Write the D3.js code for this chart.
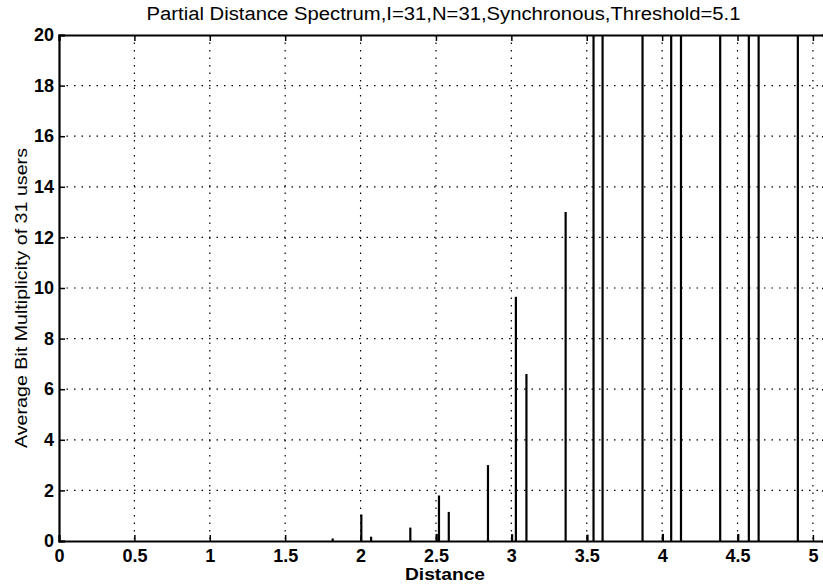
<!DOCTYPE html>
<html>
<head>
<meta charset="utf-8">
<script src="https://cdn.jsdelivr.net/npm/d3@7"></script>
<style>
  body { margin: 0; background: #fff; }
  svg { display: block; font-family: "Liberation Sans", Arial, sans-serif; }
</style>
</head>
<body>
<div id="chart"></div>
<script>
// valeurs
var distances = [1.815, 2.005, 2.07, 2.33, 2.505, 2.52, 2.585, 2.845, 3.005, 3.03, 3.10, 3.36,
                 3.505, 3.545, 3.605, 3.87, 4.005, 4.06, 4.125, 4.385, 4.505, 4.575, 4.64, 4.90];
var multiplicity = [0.1, 1.05, 0.17, 0.53, 0.28, 1.8, 1.15, 3.0, 0.27, 9.65, 6.6, 13.0,
                    0.25, 40, 40, 40, 0.28, 40, 40, 40, 0.28, 40, 40, 40];
var xTicks = [0, 0.5, 1, 1.5, 2, 2.5, 3, 3.5, 4, 4.5, 5];
var yTicks = [0, 2, 4, 6, 8, 10, 12, 14, 16, 18, 20];

var width = 823, height = 585;
var mLeft = 59, mRight = 828, mTop = 35, mBottom = 541;

var x = d3.scaleLinear().domain([0, 5.1]).range([mLeft, mRight]);
var y = d3.scaleLinear().domain([0, 20]).range([mBottom, mTop]);

var svg = d3.select("#chart").append("svg")
    .attr("width", width)
    .attr("height", height);

svg.append("clipPath").attr("id", "plot")
  .append("rect")
    .attr("x", mLeft).attr("y", mTop)
    .attr("width", mRight - mLeft).attr("height", mBottom - mTop);

// grille pointillée
var grid = svg.append("g")
    .attr("stroke", "#000")
    .attr("stroke-width", 1.2)
    .attr("stroke-dasharray", "1.5,6");

grid.selectAll(".vx")
    .data(xTicks.slice(1))
    .enter().append("line")
    .attr("x1", function(d) { return x(d); })
    .attr("x2", function(d) { return x(d); })
    .attr("y1", mTop).attr("y2", mBottom);

grid.selectAll(".hy")
    .data(yTicks.slice(1, -1))
    .enter().append("line")
    .attr("y1", function(d) { return y(d); })
    .attr("y2", function(d) { return y(d); })
    .attr("x1", mLeft).attr("x2", mRight);

// barres (stem)
svg.append("g")
    .attr("clip-path", "url(#plot)")
    .selectAll("line")
    .data(distances)
    .enter().append("line")
    .attr("x1", function(d) { return x(d); })
    .attr("x2", function(d) { return x(d); })
    .attr("y1", y(0))
    .attr("y2", function(d, i) { return y(multiplicity[i]); })
    .attr("stroke", "#000")
    .attr("stroke-width", 2.2);

// axes avec graduations vers l'intérieur
var xAxis = d3.axisBottom(x).tickValues(xTicks).tickSize(-6).tickPadding(8)
    .tickFormat(function(d) { return d; });
var yAxis = d3.axisLeft(y).tickValues(yTicks).tickSize(-6).tickPadding(5);

svg.append("g")
    .attr("transform", "translate(0," + mBottom + ")")
    .call(xAxis);
svg.append("g")
    .attr("transform", "translate(" + mLeft + ",0)")
    .call(yAxis);

svg.append("g").attr("transform", "translate(0," + mTop + ")")
    .call(d3.axisTop(x).tickValues(xTicks).tickSize(-6).tickFormat(""));
svg.append("g").attr("transform", "translate(" + mRight + ",0)")
    .call(d3.axisRight(y).tickValues(yTicks).tickSize(-6).tickFormat(""));

svg.selectAll(".domain").attr("stroke", "#000").attr("stroke-width", 2.2);
svg.selectAll(".tick line").attr("stroke", "#000").attr("stroke-width", 1.5);
svg.selectAll(".tick text")
    .attr("fill", "#000")
    .style("font-size", "18px")
    .style("font-weight", "bold")
    .style("font-family", "'Liberation Sans', Arial, sans-serif");

// titres
svg.append("text")
    .attr("x", (mLeft + mRight) / 2)
    .attr("y", 20)
    .attr("text-anchor", "middle")
    .attr("textLength", 594)
    .attr("lengthAdjust", "spacingAndGlyphs")
    .style("font-size", "18px")
    .text("Partial Distance Spectrum,I=31,N=31,Synchronous,Threshold=5.1");

svg.append("text")
    .attr("x", 445)
    .attr("y", 580)
    .attr("text-anchor", "middle")
    .attr("textLength", 80)
    .attr("lengthAdjust", "spacingAndGlyphs")
    .style("font-size", "17px")
    .style("font-weight", "bold")
    .text("Distance");

svg.append("text")
    .attr("transform", "translate(27,298) rotate(-90)")
    .attr("text-anchor", "middle")
    .attr("textLength", 300)
    .attr("lengthAdjust", "spacingAndGlyphs")
    .style("font-size", "17px")
    .text("Average Bit Multiplicity of 31 users");
</script>
</body>
</html>
